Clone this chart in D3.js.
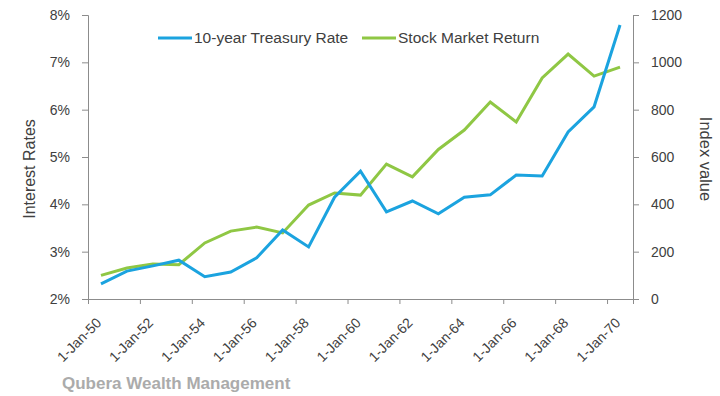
<!DOCTYPE html>
<html>
<head>
<meta charset="utf-8">
<script src="https://cdn.jsdelivr.net/npm/d3@7"></script>
<style>
  body { margin: 0; background: #fff; }
  svg { display: block; font-family: "Liberation Sans", Arial, sans-serif; }
</style>
</head>
<body>
<div id="chart"></div>
<script>
// yearly values, 1950..1970
const years = d3.range(1950, 1971);
const treasuryRate = [2.32, 2.59, 2.70, 2.82, 2.47, 2.57, 2.87, 3.46, 3.10, 4.15, 4.70,
                      3.84, 4.07, 3.80, 4.15, 4.20, 4.62, 4.60, 5.53, 6.06, 7.79];
const stockReturn = [100, 131, 148, 145, 237, 287, 304, 279, 397, 448, 439,
                     570, 516, 632, 714, 832, 748, 934, 1035, 942, 980];
const tickYears = [1950, 1952, 1954, 1956, 1958, 1960, 1962, 1964, 1966, 1968, 1970];
const rateTicks = [2, 3, 4, 5, 6, 7, 8];
const indexTicks = [0, 200, 400, 600, 800, 1000, 1200];

const width = 720, height = 396;
const margin = { top: 15, right: 87, bottom: 97, left: 88 };

const svg = d3.select("#chart").append("svg")
    .attr("width", width)
    .attr("height", height);

// band-style date axis: each year owns one slot, points sit in the middle
const x = d3.scaleLinear()
    .domain([1950, 1971])
    .range([margin.left, width - margin.right]);
const yLeft = d3.scaleLinear()
    .domain([2, 8])
    .range([height - margin.bottom, margin.top]);
const yRight = d3.scaleLinear()
    .domain([0, 1200])
    .range([height - margin.bottom, margin.top]);

const axisColor = "#8c8c8c";
const labelColor = "#404040";

function styleAxis(g) {
    g.selectAll("path, line").attr("stroke", axisColor);
    g.selectAll("text").attr("fill", labelColor).style("font-size", "14px");
}

// left axis
svg.append("g")
    .attr("transform", `translate(${margin.left},0)`)
    .call(d3.axisLeft(yLeft).tickValues(rateTicks).tickFormat(d => d + "%").tickSizeOuter(0).tickSize(6).tickPadding(12))
    .call(styleAxis);

// right axis
svg.append("g")
    .attr("transform", `translate(${width - margin.right},0)`)
    .call(d3.axisRight(yRight).tickValues(indexTicks).tickFormat(d3.format("d")).tickSizeOuter(0).tickSize(6).tickPadding(12))
    .call(styleAxis);

// bottom axis
const xAxis = svg.append("g")
    .attr("transform", `translate(0,${height - margin.bottom})`)
    .call(d3.axisBottom(x).tickValues(tickYears).tickSizeOuter(0).tickSize(5)
        .tickFormat(d => "1-Jan-" + String(d).slice(2)))
    .call(styleAxis);
xAxis.selectAll("text")
    .attr("text-anchor", "end")
    .attr("dy", null)
    .attr("transform", "translate(8,19) rotate(-45)");

// axis titles
svg.append("text")
    .attr("transform", `translate(35,169) rotate(-90)`)
    .attr("text-anchor", "middle")
    .attr("fill", labelColor)
    .style("font-size", "16px")
    .text("Interest Rates");

svg.append("text")
    .attr("transform", `translate(700,159) rotate(90)`)
    .attr("text-anchor", "middle")
    .attr("fill", labelColor)
    .style("font-size", "16.5px")
    .text("Index value");

// lines
const blue = "#1ba3df";
const green = "#8fc744";

const lineRate = d3.line()
    .x((d, i) => x(years[i] + 0.5))
    .y(d => yLeft(d));
const lineIndex = d3.line()
    .x((d, i) => x(years[i] + 0.5))
    .y(d => yRight(d));

svg.append("path")
    .datum(stockReturn)
    .attr("fill", "none")
    .attr("stroke", green)
    .attr("stroke-width", 3)
    .attr("d", lineIndex);

svg.append("path")
    .datum(treasuryRate)
    .attr("fill", "none")
    .attr("stroke", blue)
    .attr("stroke-width", 3)
    .attr("d", lineRate);

// legend
const legend = [
    { name: "10-year Treasury Rate", color: blue, x: 158 },
    { name: "Stock Market Return", color: green, x: 362 }
];
const lg = svg.selectAll(".legend")
    .data(legend)
    .enter().append("g")
    .attr("class", "legend")
    .attr("transform", d => `translate(${d.x},38)`);
lg.append("line")
    .attr("x1", 0).attr("x2", 34)
    .attr("stroke", d => d.color)
    .attr("stroke-width", 3);
lg.append("text")
    .attr("x", 36)
    .attr("y", 5)
    .attr("fill", labelColor)
    .style("font-size", "15.5px")
    .text(d => d.name);

// footer
svg.append("text")
    .attr("x", 62)
    .attr("y", 389)
    .attr("fill", "#ababab")
    .style("font-size", "17px")
    .style("font-weight", "bold")
    .text("Qubera Wealth Management");
</script>
</body>
</html>
